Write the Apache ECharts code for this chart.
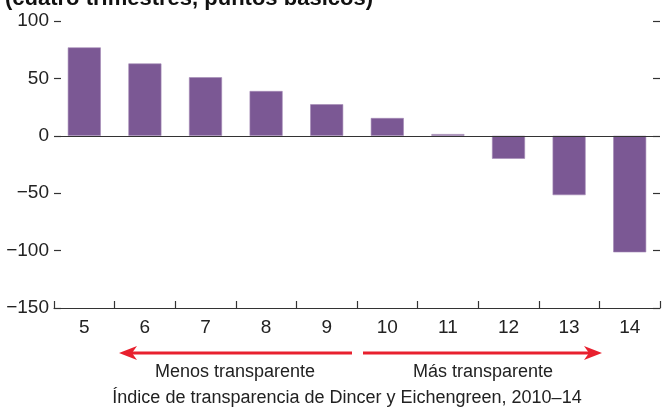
<!DOCTYPE html>
<html>
<head>
<meta charset="utf-8">
<script src="https://cdn.jsdelivr.net/npm/echarts@6/dist/echarts.min.js"></script>
<style>
  html, body { margin: 0; padding: 0; background: #fff; }
  #main { width: 663px; height: 411px; }
</style>
</head>
<body>
<div id="main"></div>
<script>
// transparency index buckets
const categories = ["5", "6", "7", "8", "9", "10", "11", "12", "13", "14"];
// four-quarter change, basis points
const values = [77, 63, 51, 39, 27.5, 15.5, 1.5, -20, -51.7, -101.5];
const yTicks = { min: -150, max: 100, interval: 50 };

const FONT = '"Liberation Sans", Arial, sans-serif';
const RED = "#e8202e";
const AXIS = "#333";

const chart = echarts.init(document.getElementById("main"));

const minus = (v) => String(v).replace("-", "\u2212");

const option = {
   animation: false,
   textStyle: { fontFamily: FONT },
   grid: { left: 54, right: 3, top: 21, bottom: 103, containLabel: false },
   xAxis: {
      type: "category",
      data: categories,
      boundaryGap: true,
      axisLine: { show: true, onZero: false, lineStyle: { color: AXIS, width: 1.2 } },
      axisTick: { show: true, interval: 0, inside: true, length: 7, alignWithLabel: false, lineStyle: { color: AXIS, width: 1.2 } },
      axisLabel: { fontSize: 19, color: "#222", margin: 10, fontFamily: FONT },
   },
   yAxis: [
      {
         type: "value",
         min: yTicks.min,
         max: yTicks.max,
         interval: yTicks.interval,
         axisLine: { show: false },
         axisTick: { show: true, inside: true, length: 7, lineStyle: { color: AXIS, width: 1.2 } },
         axisLabel: { fontSize: 19, color: "#222", margin: 5, fontFamily: FONT, formatter: minus },
         splitLine: { show: false },
      },
      {
         type: "value",
         position: "right",
         min: yTicks.min,
         max: yTicks.max,
         interval: yTicks.interval,
         axisLine: { show: false },
         axisTick: { show: true, inside: true, length: 7, lineStyle: { color: AXIS, width: 1.2 } },
         axisLabel: { show: false },
         splitLine: { show: false },
      },
   ],
   series: [
      {
         type: "bar",
         data: values,
         barWidth: 33,
         itemStyle: { color: "#7b5894", borderColor: "#a589b6", borderWidth: 0.6 },
         markLine: {
            silent: true,
            symbol: ["none", "none"],
            label: { show: false },
            lineStyle: { color: AXIS, width: 1.2, type: "solid" },
            data: [{ yAxis: 0 }],
         },
      },
   ],
   graphic: [
      {
         type: "text",
         left: 5,
         top: -12,
         style: {
            text: "(cuatro trimestres, puntos básicos)",
            font: 'bold 22px ' + FONT,
            fill: "#111",
         },
      },
      // left arrow
      { type: "line", shape: { x1: 131, y1: 353, x2: 352, y2: 353 }, style: { stroke: RED, lineWidth: 3 } },
      { type: "polygon", shape: { points: [[119, 353], [137, 346], [132, 353], [137, 360]] }, style: { fill: RED } },
      // right arrow
      { type: "line", shape: { x1: 363, y1: 353, x2: 590, y2: 353 }, style: { stroke: RED, lineWidth: 3 } },
      { type: "polygon", shape: { points: [[602, 353], [584, 346], [589, 353], [584, 360]] }, style: { fill: RED } },
      {
         type: "text",
         x: 235, y: 372,
         style: { text: "Menos transparente", font: '18px ' + FONT, fill: "#222", textAlign: "center", textVerticalAlign: "middle" },
      },
      {
         type: "text",
         x: 483, y: 372,
         style: { text: "Más transparente", font: '18px ' + FONT, fill: "#222", textAlign: "center", textVerticalAlign: "middle" },
      },
      {
         type: "text",
         x: 347, y: 398,
         style: { text: "Índice de transparencia de Dincer y Eichengreen, 2010–14", font: '18px ' + FONT, fill: "#222", textAlign: "center", textVerticalAlign: "middle" },
      },
   ],
};

chart.setOption(option);
</script>
</body>
</html>
